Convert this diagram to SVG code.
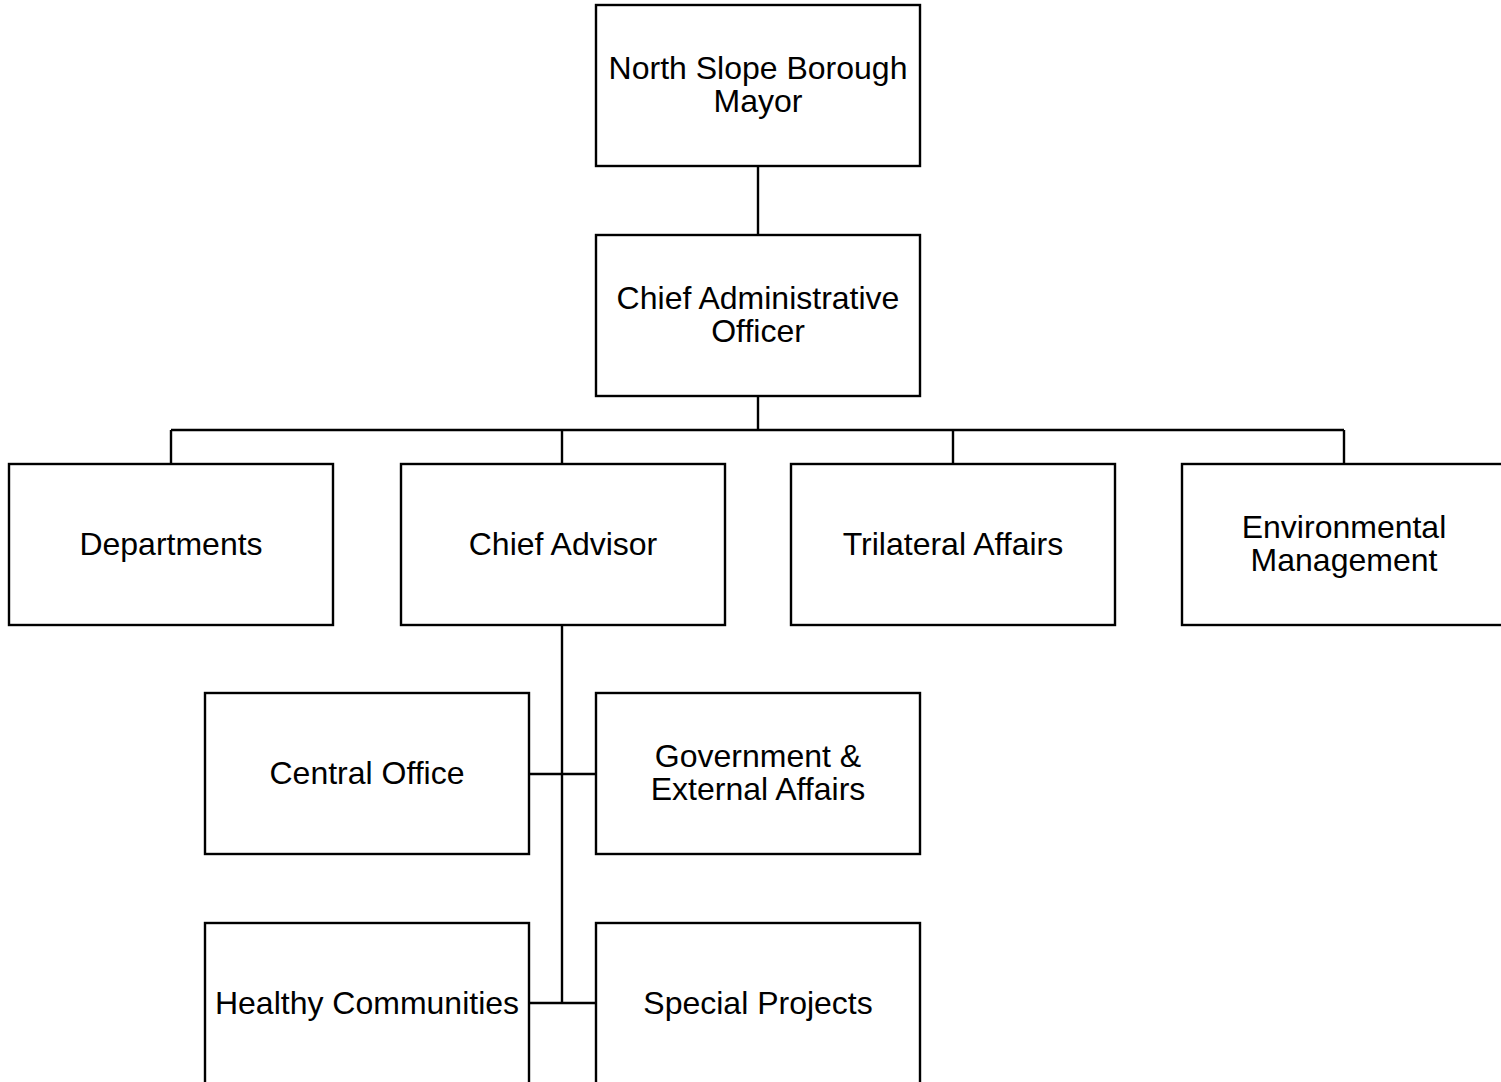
<svg xmlns="http://www.w3.org/2000/svg" width="1501" height="1082" viewBox="0 0 1501 1082">
<style>
.box{fill:#fff;stroke:#000;stroke-width:2.4}
.lbl{font-family:"Liberation Sans",Arial,sans-serif;font-size:32px;fill:#000;text-anchor:middle}
.con{fill:none;stroke:#000;stroke-width:2.4}
</style>
<rect width="1501" height="1082" fill="#fff"/>
<g id="connectors">
<path class="con" d="M758,166V235"/>
<path class="con" d="M758,396V430M171,430H1344M171,430V464M562,430V464M953,430V464M1344,430V464"/>
<path class="con" d="M562,625V1003M529,774H596M529,1003H596"/>
</g>
<g id="mayor"><rect class="box" x="596" y="5" width="324" height="161"/><text class="lbl" x="758" y="79">North Slope Borough</text><text class="lbl" x="758" y="112">Mayor</text></g>
<g id="cao"><rect class="box" x="596" y="235" width="324" height="161"/><text class="lbl" x="758" y="309">Chief Administrative</text><text class="lbl" x="758" y="342">Officer</text></g>
<g id="departments"><rect class="box" x="9" y="464" width="324" height="161"/><text class="lbl" x="171" y="555">Departments</text></g>
<g id="chief-advisor"><rect class="box" x="401" y="464" width="324" height="161"/><text class="lbl" x="563" y="555">Chief Advisor</text></g>
<g id="trilateral"><rect class="box" x="791" y="464" width="324" height="161"/><text class="lbl" x="953" y="555">Trilateral Affairs</text></g>
<g id="environmental"><rect class="box" x="1182" y="464" width="324" height="161"/><text class="lbl" x="1344" y="538">Environmental</text><text class="lbl" x="1344" y="571">Management</text></g>
<g id="central-office"><rect class="box" x="205" y="693" width="324" height="161"/><text class="lbl" x="367" y="784">Central Office</text></g>
<g id="gov-external"><rect class="box" x="596" y="693" width="324" height="161"/><text class="lbl" x="758" y="767">Government &amp;</text><text class="lbl" x="758" y="800">External Affairs</text></g>
<g id="healthy"><rect class="box" x="205" y="923" width="324" height="161"/><text class="lbl" x="367" y="1014">Healthy Communities</text></g>
<g id="special"><rect class="box" x="596" y="923" width="324" height="161"/><text class="lbl" x="758" y="1014">Special Projects</text></g>
</svg>
